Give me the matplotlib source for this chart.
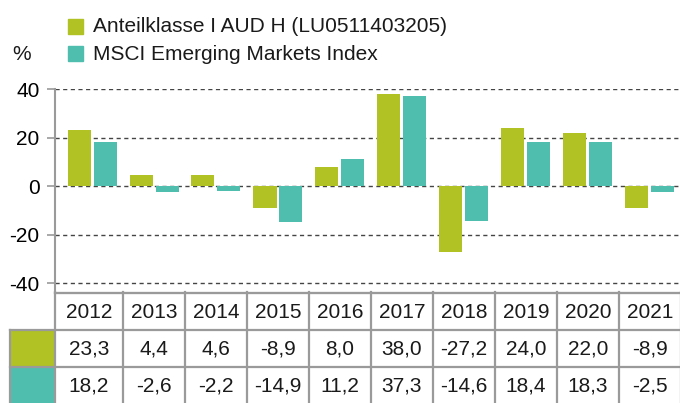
import matplotlib
matplotlib.use("Agg")
import matplotlib.pyplot as plt
from matplotlib.patches import Rectangle

# Daten
years = ["2012", "2013", "2014", "2015", "2016", "2017", "2018", "2019", "2020", "2021"]
fund = [23.3, 4.4, 4.6, -8.9, 8.0, 38.0, -27.2, 24.0, 22.0, -8.9]
index = [18.2, -2.6, -2.2, -14.9, 11.2, 37.3, -14.6, 18.4, 18.3, -2.5]
labels = ["Anteilklasse I AUD H (LU0511403205)", "MSCI Emerging Markets Index"]
yticks = [-40, -20, 0, 20, 40]

green = "#B0C224"
teal = "#50BEAF"
grey = "#9a9a9a"

plt.rcParams['font.family'] = ['Liberation Sans', 'DejaVu Sans']
W, H = 680, 403
fig = plt.figure(figsize=(W / 100, H / 100), dpi=100)

# Diagramm
ax = fig.add_axes([55 / W, (H - 292.7) / H, 625 / W, 204 / H])
x = list(range(len(years)))
bw = 23 / 62
ax.bar([i - 13 / 62 for i in x], fund, width=bw, color=green, zorder=3)
ax.bar([i + 13 / 62 for i in x], index, width=bw, color=teal, zorder=3)
ax.set_xlim(-37 / 62, 9 + 30 / 62)
ax.set_ylim(-44, 40.2)
ax.set_yticks(yticks)
ax.set_yticklabels([str(v) for v in yticks], fontsize=15)
ax.set_xticks([])
for v in yticks:
    ax.axhline(v, color="#444444", lw=1, ls=(0, (3, 2.5)), zorder=1)
for s in ["top", "right"]:
    ax.spines[s].set_visible(False)
ax.spines["left"].set_color(grey)
ax.spines["left"].set_linewidth(1.5)
ax.spines["bottom"].set_color(grey)
ax.spines["bottom"].set_linewidth(1.5)
ax.tick_params(axis="y", length=6, width=1.2, color=grey, pad=5)

# Overlay in Pixelkoordinaten für Tabelle und Legende
ov = fig.add_axes([0, 0, 1, 1])
ov.set_xlim(0, W)
ov.set_ylim(H, 0)
ov.axis("off")
ov.patch.set_alpha(0)

cols = [55] + [123 + 62 * k for k in range(11)]
rows = [293, 330, 367, 404]
lc = dict(color=grey, lw=1.6)
ov.plot([55, W], [rows[0], rows[0]], **lc)
ov.plot([10, W], [rows[1], rows[1]], **lc)
ov.plot([10, W], [rows[2], rows[2]], **lc)
ov.plot([10, 10], [rows[1], H], **lc)
for cx in cols:
    ov.plot([cx, cx], [rows[0] - 1, H], **lc)
ov.add_patch(Rectangle((11, rows[1] + 1), 43, 35, color=green))
ov.add_patch(Rectangle((11, rows[2] + 1), 43, 36, color=teal))

def fmt(v):
    return f"{v:.1f}".replace(".", ",")

for k, yr in enumerate(years):
    cx = (cols[k] + cols[k + 1]) / 2
    ov.text(cx, 312, yr, ha="center", va="center", fontsize=15, color="#1a1a1a")
    ov.text(cx, 349, fmt(fund[k]), ha="center", va="center", fontsize=15, color="#1a1a1a")
    ov.text(cx, 386, fmt(index[k]), ha="center", va="center", fontsize=15, color="#1a1a1a")

# Legende
ov.add_patch(Rectangle((68, 19), 15, 15, color=green))
ov.add_patch(Rectangle((68, 46), 15, 15, color=teal))
ov.text(93, 27, labels[0], ha="left", va="center", fontsize=15, color="#1a1a1a")
ov.text(93, 54, labels[1], ha="left", va="center", fontsize=15, color="#1a1a1a")
ov.text(12, 55, "%", ha="left", va="center", fontsize=15, color="#1a1a1a")

fig.savefig("out.png", dpi=100)
